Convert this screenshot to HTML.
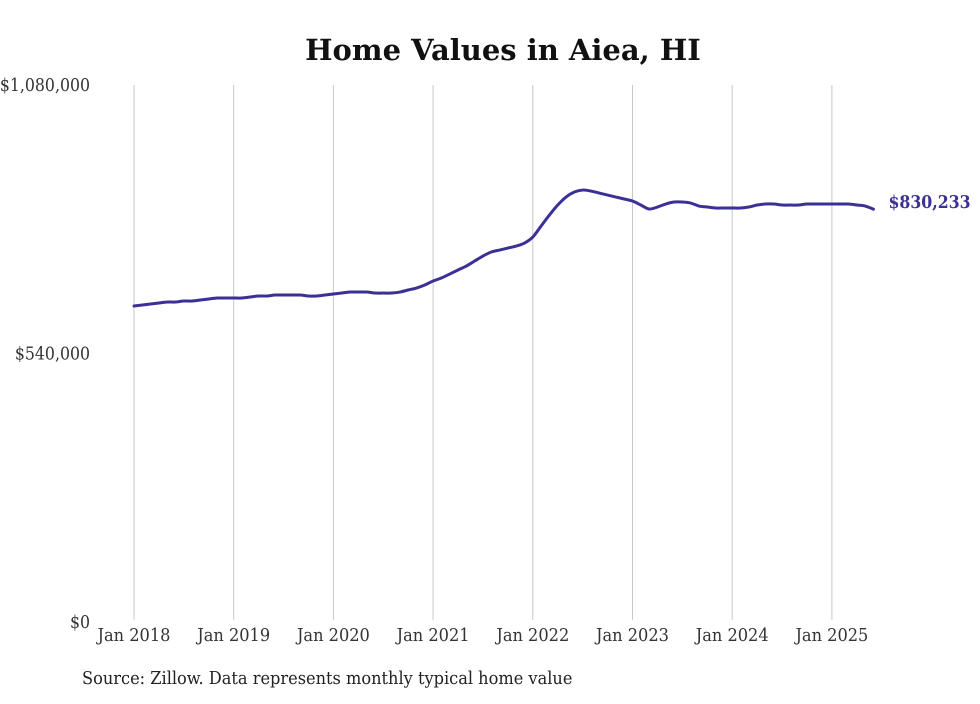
<!DOCTYPE html>
<html><head><meta charset="utf-8">
<style>
html,body{margin:0;padding:0;background:#fff;}
svg text{font-family:"DejaVu Serif","Liberation Serif",serif;font-stretch:condensed;}
</style></head>
<body>
<svg id="chart" width="980" height="699" viewBox="0 0 980 699" xmlns="http://www.w3.org/2000/svg">
<rect width="980" height="699" fill="#fff"/>
<text x="503" y="60" text-anchor="middle" font-size="29" font-weight="bold" fill="#111" style="font-stretch:normal">Home Values in Aiea, HI</text>
<g id="grid"></g>
<g id="yaxis"></g>
<g id="xaxis"></g>
<g id="series"></g>
<text x="82" y="684" font-size="18" fill="#222">Source: Zillow. Data represents monthly typical home value</text>
</svg>
<script>
const yTicks=[0,540000,1080000];
const yTickLabels=["$0","$540,000","$1,080,000"];
const xTickYears=[2018,2019,2020,2021,2022,2023,2024,2025];
const xTickLabels=["Jan 2018","Jan 2019","Jan 2020","Jan 2021","Jan 2022","Jan 2023","Jan 2024","Jan 2025"];
const startYear=2018;
const values=[
635500,637500,639500,641500,643500,643500,645500,645500,647500,649600,651600,651600,
651600,651600,653600,655600,655600,657600,657600,657600,657600,655600,655600,657600,
659600,661600,663600,663600,663600,661600,661600,661600,663600,667700,671700,677700,
685800,691800,699800,707900,715900,726000,736000,744100,748100,752100,756100,762200,
774200,796400,818500,838600,854700,864700,868700,866700,862700,858700,854700,850700,
846700,838600,830600,834600,840600,844600,844600,842600,836600,834600,832600,832600,
832600,832600,834600,838600,840600,840600,838600,838600,838600,840600,840600,840600,
840600,840600,840600,838600,836600,830233];
const lastLabel="$830,233";

const NS="http://www.w3.org/2000/svg";
const x0=134, yearW=99.7, yTop=85, yBot=622, vMax=1080000;
function xPos(m){return x0+m/12*yearW;}
function yPos(v){return yBot-v/vMax*(yBot-yTop);}
function mk(tag,attrs,parent){const e=document.createElementNS(NS,tag);for(const k in attrs)e.setAttribute(k,attrs[k]);parent.appendChild(e);return e;}

const grid=document.getElementById('grid'),xa=document.getElementById('xaxis'),ya=document.getElementById('yaxis'),ser=document.getElementById('series');
xTickYears.forEach((yr,i)=>{
  const x=xPos((yr-startYear)*12);
  const l=mk('line',{x1:x,x2:x,y1:yTop,y2:yBot-2,stroke:'#c8c8c8','stroke-width':1},grid);
  
  
  const t=mk('text',{x:x,y:641,'text-anchor':'middle','font-size':18,fill:'#333'},xa);
  t.textContent=xTickLabels[i];
  
  
});
yTicks.forEach((v,i)=>{
  const t=mk('text',{x:90,y:yPos(v)+6,'text-anchor':'end','font-size':17.5,fill:'#333'},ya);
  t.textContent=yTickLabels[i];
  
  
});
const pts=values.map((v,i)=>[xPos(i),yPos(v)]);
let d='M'+pts[0][0]+','+pts[0][1];
for(let i=0;i<pts.length-1;i++){
  const p0=pts[Math.max(0,i-1)],p1=pts[i],p2=pts[i+1],p3=pts[Math.min(pts.length-1,i+2)];
  const c1=[p1[0]+(p2[0]-p0[0])/6,p1[1]+(p2[1]-p0[1])/6];
  const c2=[p2[0]-(p3[0]-p1[0])/6,p2[1]-(p3[1]-p1[1])/6];
  d+=' C'+c1[0]+','+c1[1]+' '+c2[0]+','+c2[1]+' '+p2[0]+','+p2[1];
}
const path=mk('path',{d:d,fill:'none',stroke:'#3a3096','stroke-width':3,'stroke-linecap':'round','stroke-linejoin':'round'},ser);


const lp=pts[pts.length-1];
const lab=mk('text',{x:lp[0]+15,y:lp[1]-1,'font-size':17.5,'font-weight':'bold',fill:'#3a3096'},ser);
lab.textContent=lastLabel;


</script>
</body></html>
